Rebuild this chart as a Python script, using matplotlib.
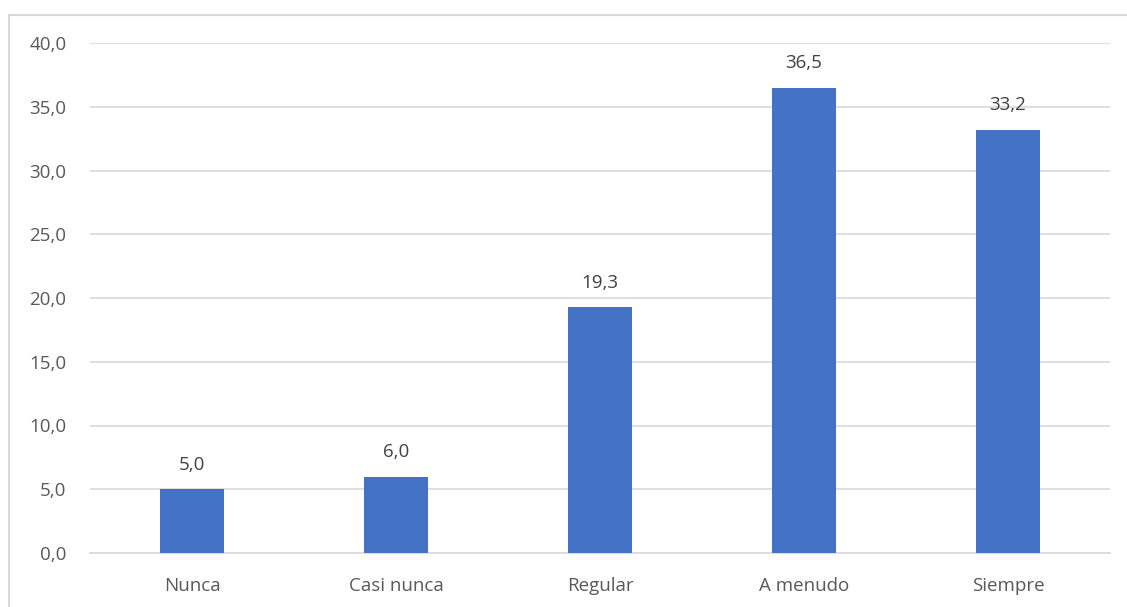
import matplotlib
matplotlib.use("Agg")
import matplotlib.pyplot as plt
from matplotlib.lines import Line2D

categories = ["Nunca", "Casi nunca", "Regular", "A menudo", "Siempre"]
values = [5.0, 6.0, 19.3, 36.5, 33.2]
yticks = [0, 5, 10, 15, 20, 25, 30, 35, 40]

W, H = 1127, 607
fig = plt.figure(figsize=(W/100, H/100), dpi=100)
ax = fig.add_axes([90/W, 1-553/H, (1110-90)/W, (553-43)/H])

x = list(range(len(categories)))
ax.bar(x, values, width=0.314, color="#4472C4", zorder=3)
ax.set_xlim(-0.5, len(categories)-0.5)
ax.set_ylim(0, 40)
ax.set_yticks(yticks)
ax.set_yticklabels([f"{v:.1f}".replace(".", ",") for v in yticks])
ax.set_xticks(x)
ax.set_xticklabels(categories)
ax.grid(axis="y", color="#D9D9D9", linewidth=1.2, zorder=0)
for s in ["top", "right", "left"]:
    ax.spines[s].set_visible(False)
ax.spines["bottom"].set_color("#D9D9D9")
ax.spines["bottom"].set_linewidth(1.2)
ax.tick_params(axis="both", length=0, labelsize=13.5, colors="#595959")
ax.tick_params(axis="y", pad=17)
ax.tick_params(axis="x", pad=17)
for lab in ax.get_xticklabels() + ax.get_yticklabels():
    lab.set_family("Open Sans")

for xi, v in zip(x, values):
    ax.annotate(f"{v:.1f}".replace(".", ","), (xi, v), xytext=(0, 11),
                textcoords="offset points", ha="center", va="bottom",
                fontsize=13.5, color="#404040", family="Open Sans")

fig.add_artist(Line2D([9/W, 9/W], [0, 1-15/H], color="#D9D9D9", lw=1.5, transform=fig.transFigure))
fig.add_artist(Line2D([9/W, 1], [1-15/H, 1-15/H], color="#D9D9D9", lw=1.5, transform=fig.transFigure))

fig.savefig("out.png", dpi=100)
